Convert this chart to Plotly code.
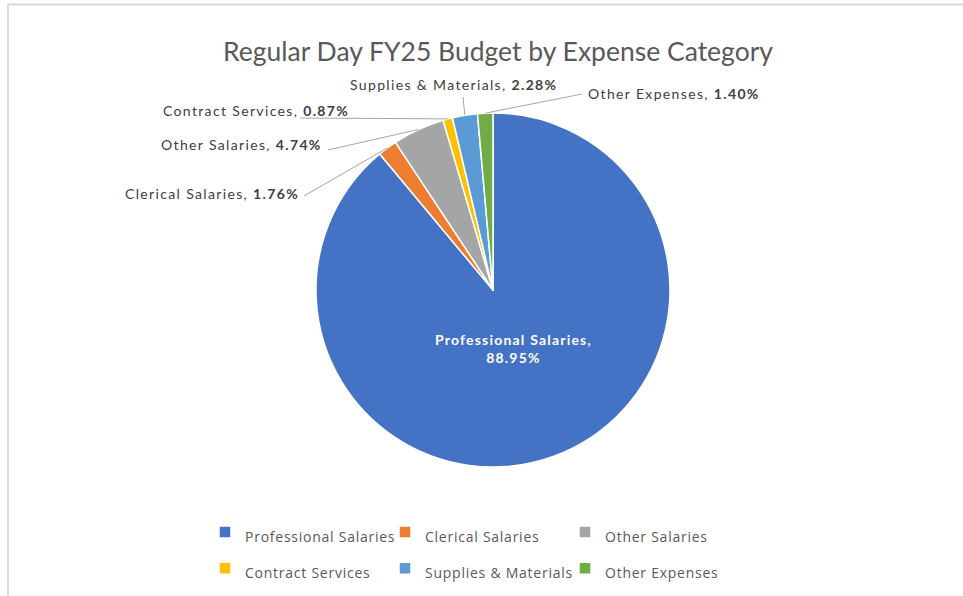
import plotly.graph_objects as go
import math

# ---- data ----
categories = ["Professional Salaries", "Clerical Salaries", "Other Salaries",
              "Contract Services", "Supplies & Materials", "Other Expenses"]
percentages = [88.95, 1.76, 4.74, 0.87, 2.28, 1.40]
colors = ["#4472C4", "#ED7D31", "#A5A5A5", "#FFC000", "#5B9BD5", "#70AD47"]
title_text = "Regular Day FY25 Budget by Expense Category"

# ---- layout constants (pixels, in window coordinates) ----
W, H = 963, 596
OFF = 0                 # body margin removed by post_script
ML, MR = 181, 182
PW = W - ML - MR
CX, CY, R = 493, 290, 177


def px2x(px):
    return (px - OFF - ML) / PW


def px2y(py):
    return 1 - (py - OFF) / H


LBL_STYLE = "letter-spacing:1.35px"

fig = go.Figure()
fig.add_trace(go.Pie(
    labels=[f"<span style='font-size:14px;letter-spacing:0.75px'>{c}</span>" for c in categories],
    values=percentages,
    sort=False,
    direction="clockwise",
    rotation=0,
    marker=dict(colors=colors, line=dict(color="white", width=1.5)),
    textinfo="none",
    hoverinfo="label+percent",
    domain=dict(x=[px2x(CX - R), px2x(CX + R)], y=[px2y(CY + R), px2y(CY - R)]),
))

# slice mid-angle anchors computed from the data
total = sum(percentages)
anchors = []
cum = 0
for v in percentages:
    mid = (cum + v / 2) / total * 2 * math.pi
    anchors.append((CX + R * math.sin(mid), CY - R * math.cos(mid)))
    cum += v

# label placements (pixels): (x, y, xanchor, line start x, line start y)
label_pos = {
    1: (301, 193, "right", 304, 196),
    2: (324, 144, "right", 328, 150),
    3: (351, 110, "right", 300, 118),
    4: (453, 85, "center", 463, 97),
    5: (586, 93, "left", 582, 94),
}

annotations = []
shapes = []
for i, (lx, ly, xa, sx, sy) in label_pos.items():
    annotations.append(dict(
        x=px2x(lx), y=px2y(ly), xref="paper", yref="paper",
        xanchor=xa, yanchor="middle", showarrow=False,
        text=f"<span style='{LBL_STYLE}'>{categories[i]}, <b>{percentages[i]:.2f}%</b></span>",
        font=dict(family="Lato", size=14, color="#404040"),
    ))
    ax, ay = anchors[i]
    shapes.append(dict(
        type="line", xref="paper", yref="paper",
        x0=px2x(sx), y0=px2y(sy), x1=px2x(ax), y1=px2y(ay),
        line=dict(color="#A6A6A6", width=1),
    ))

annotations.append(dict(
    x=px2x(513), y=px2y(348), xref="paper", yref="paper",
    xanchor="center", yanchor="middle", showarrow=False,
    text=f"<span style='letter-spacing:1.2px'><b>{categories[0]},<br>{percentages[0]:.2f}%</b></span>",
    font=dict(family="Lato", size=14, color="white"),
))

# chart frame (top and left edges visible)
shapes.append(dict(type="line", xref="paper", yref="paper",
                   x0=px2x(8), y0=px2y(4.5), x1=px2x(W + 20), y1=px2y(4.5),
                   line=dict(color="#D9D9D9", width=2)))
shapes.append(dict(type="line", xref="paper", yref="paper",
                   x0=px2x(8), y0=px2y(4.5), x1=px2x(8), y1=px2y(H + 20),
                   line=dict(color="#D9D9D9", width=2)))

fig.update_layout(
    width=W, height=H,
    margin=dict(l=ML, r=MR, t=0, b=0),
    paper_bgcolor="white", plot_bgcolor="white",
    title=dict(text=title_text, x=(498 - OFF) / W, xref="container", xanchor="center",
               y=1 - (52 - OFF) / H, yref="container", yanchor="middle",
               font=dict(family="Lato", size=26.5, color="#595959")),
    showlegend=True,
    legend=dict(orientation="h", x=px2x(205), xanchor="left",
                y=px2y(509), yanchor="top",
                entrywidth=135, entrywidthmode="pixels",
                font=dict(family="Open Sans", size=25.5, color="#595959"),
                itemclick=False, itemdoubleclick=False),
    annotations=annotations,
    shapes=shapes,
)

fig.write_html("out.html", config={"displayModeBar": False},
               post_script="document.body.style.margin='0px';")
